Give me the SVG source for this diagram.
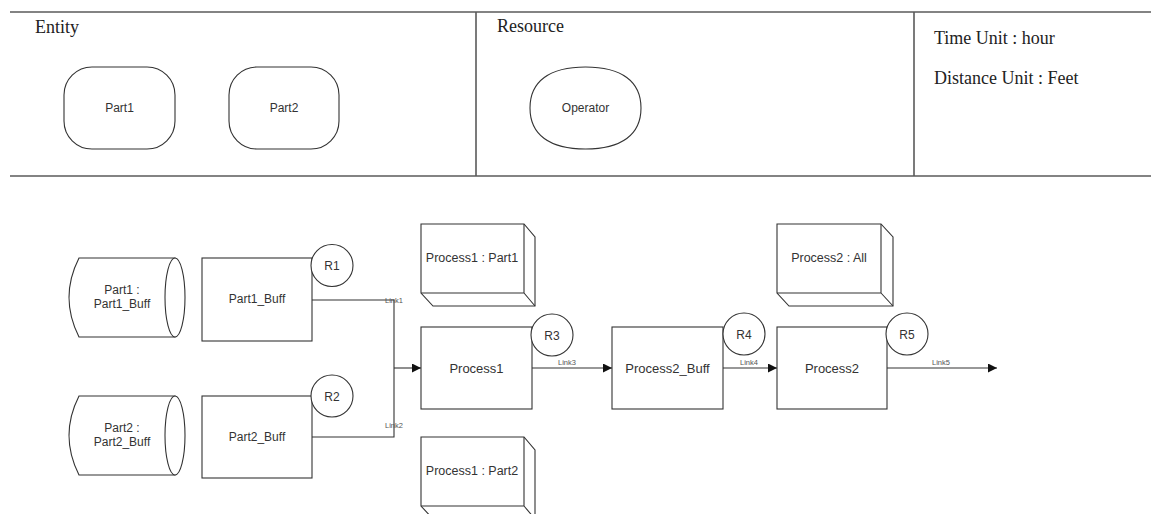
<svg xmlns="http://www.w3.org/2000/svg" width="1151" height="514" viewBox="0 0 1151 514">
  <defs>
    <style>
      .frame { stroke: #5a5a5a; stroke-width: 1.6; fill: none; }
      .shape { stroke: #333; stroke-width: 1.1; fill: #fff; }
      .edge { stroke: #333; stroke-width: 1.1; fill: none; }
      .title { font-family: "Liberation Serif", serif; font-size: 18px; fill: #222; }
      .lbl { font-family: "Liberation Sans", Arial, sans-serif; font-size: 12px; fill: #333; text-anchor: middle; }
      .big { font-size: 13px; }
      .mid { font-size: 12.5px; }
      .small { font-family: "Liberation Sans", Arial, sans-serif; font-size: 12px; fill: #333; text-anchor: middle; }
      .link { font-family: "Liberation Sans", Arial, sans-serif; font-size: 7.5px; fill: #555; text-anchor: middle; }
    </style>
    <marker id="arrow" viewBox="0 0 10 10" refX="10" refY="5" markerWidth="9" markerHeight="9" markerUnits="userSpaceOnUse" orient="auto">
      <path d="M0,0 L10,5 L0,10 z" fill="#111"/>
    </marker>
  </defs>

  <rect width="1151" height="514" fill="#fff"/>

  <!-- legend frame -->
  <g id="legend-frame">
    <line class="frame" x1="10" y1="12" x2="1151" y2="12"/>
    <line class="frame" x1="10" y1="176" x2="1151" y2="176"/>
    <line class="frame" x1="476" y1="12" x2="476" y2="176"/>
    <line class="frame" x1="914" y1="12" x2="914" y2="176"/>
    <text class="title" x="35" y="33">Entity</text>
    <text class="title" x="497" y="32">Resource</text>
    <text class="title" x="934" y="44">Time Unit : hour</text>
    <text class="title" x="934" y="84">Distance Unit : Feet</text>
  </g>

  <g id="entity-part1">
    <rect class="shape" x="64" y="67" width="111" height="82" rx="28" ry="28"/>
    <text class="small" x="119.5" y="112">Part1</text>
  </g>
  <g id="entity-part2">
    <rect class="shape" x="229" y="67" width="110" height="82" rx="28" ry="28"/>
    <text class="small" x="284" y="112">Part2</text>
  </g>
  <g id="resource-operator">
    <path class="shape" d="M530,108 C530,81.3 549.5,67 585.5,67 C621.5,67 641,81.3 641,108 C641,134.7 621.5,149 585.5,149 C549.5,149 530,134.7 530,108 z"/>
    <text class="small" x="585.5" y="112">Operator</text>
  </g>

  <!-- connectors -->
  <g id="connectors">
    <polyline class="edge" points="312,300 394,300 394,437 312,437"/>
    <line class="edge" x1="394" y1="368" x2="421" y2="368" marker-end="url(#arrow)"/>
    <line class="edge" x1="532" y1="368" x2="612" y2="368" marker-end="url(#arrow)"/>
    <line class="edge" x1="723" y1="368" x2="777" y2="368" marker-end="url(#arrow)"/>
    <line class="edge" x1="887" y1="368" x2="997" y2="368" marker-end="url(#arrow)"/>
    <text class="link" x="394" y="303">Link1</text>
    <text class="link" x="394" y="428">Link2</text>
    <text class="link" x="567" y="365">Link3</text>
    <text class="link" x="749" y="365">Link4</text>
    <text class="link" x="941" y="365">Link5</text>
  </g>

  <!-- queues -->
  <g id="queue-part1">
    <path class="shape" d="M79,258 L175,258 L175,337 L79,337 Q59,297.5 79,258 z"/>
    <ellipse class="shape" cx="175" cy="297.5" rx="10" ry="39.5"/>
    <text class="lbl" x="122" y="294">Part1 :</text>
    <text class="lbl" x="122" y="308">Part1_Buff</text>
  </g>
  <g id="queue-part2">
    <path class="shape" d="M79,396 L175,396 L175,475 L79,475 Q59,435.5 79,396 z"/>
    <ellipse class="shape" cx="175" cy="435.5" rx="10" ry="39.5"/>
    <text class="lbl" x="122" y="432">Part2 :</text>
    <text class="lbl" x="122" y="446">Part2_Buff</text>
  </g>

  <!-- stations -->
  <g id="part1-buff">
    <rect class="shape" x="202" y="258" width="110" height="83"/>
    <text class="lbl" x="257" y="303">Part1_Buff</text>
  </g>
  <g id="r1">
    <circle class="shape" cx="332" cy="265.5" r="21"/>
    <text class="lbl" x="332" y="270">R1</text>
  </g>
  <g id="part2-buff">
    <rect class="shape" x="202" y="396" width="110" height="82"/>
    <text class="lbl" x="257" y="441">Part2_Buff</text>
  </g>
  <g id="r2">
    <circle class="shape" cx="332" cy="396" r="21"/>
    <text class="lbl" x="332" y="400.5">R2</text>
  </g>

  <g id="process1">
    <rect class="shape" x="421" y="327" width="111" height="82"/>
    <text class="lbl big" x="476.5" y="372.5">Process1</text>
  </g>
  <g id="r3">
    <circle class="shape" cx="552" cy="335" r="21"/>
    <text class="lbl" x="552" y="339.5">R3</text>
  </g>
  <g id="process2-buff">
    <rect class="shape" x="612" y="327" width="111" height="82"/>
    <text class="lbl big" x="667.5" y="372.5">Process2_Buff</text>
  </g>
  <g id="r4">
    <circle class="shape" cx="744" cy="334" r="21"/>
    <text class="lbl" x="744" y="338.5">R4</text>
  </g>
  <g id="process2">
    <rect class="shape" x="777" y="327" width="110" height="82"/>
    <text class="lbl big" x="832" y="372.5">Process2</text>
  </g>
  <g id="r5">
    <circle class="shape" cx="907" cy="334" r="21"/>
    <text class="lbl" x="907" y="338.5">R5</text>
  </g>

  <!-- process attribute boxes -->
  <g id="process1-part1">
    <path class="shape" d="M421,224 L524,224 L535,237 L535,306 L433,306 L421,293 z"/>
    <path class="edge" d="M524,224 L524,293 L421,293 M524,293 L535,306"/>
    <text class="lbl mid" x="472" y="262">Process1 : Part1</text>
  </g>
  <g id="process1-part2">
    <path class="shape" d="M421,437 L524,437 L535,450 L535,519 L433,519 L421,506 z"/>
    <path class="edge" d="M524,437 L524,506 L421,506 M524,506 L535,519"/>
    <text class="lbl mid" x="472" y="475">Process1 : Part2</text>
  </g>
  <g id="process2-all">
    <path class="shape" d="M777,224 L881,224 L893,237 L893,306 L789,306 L777,293 z"/>
    <path class="edge" d="M881,224 L881,293 L777,293 M881,293 L893,306"/>
    <text class="lbl mid" x="829" y="262">Process2 : All</text>
  </g>
</svg>
